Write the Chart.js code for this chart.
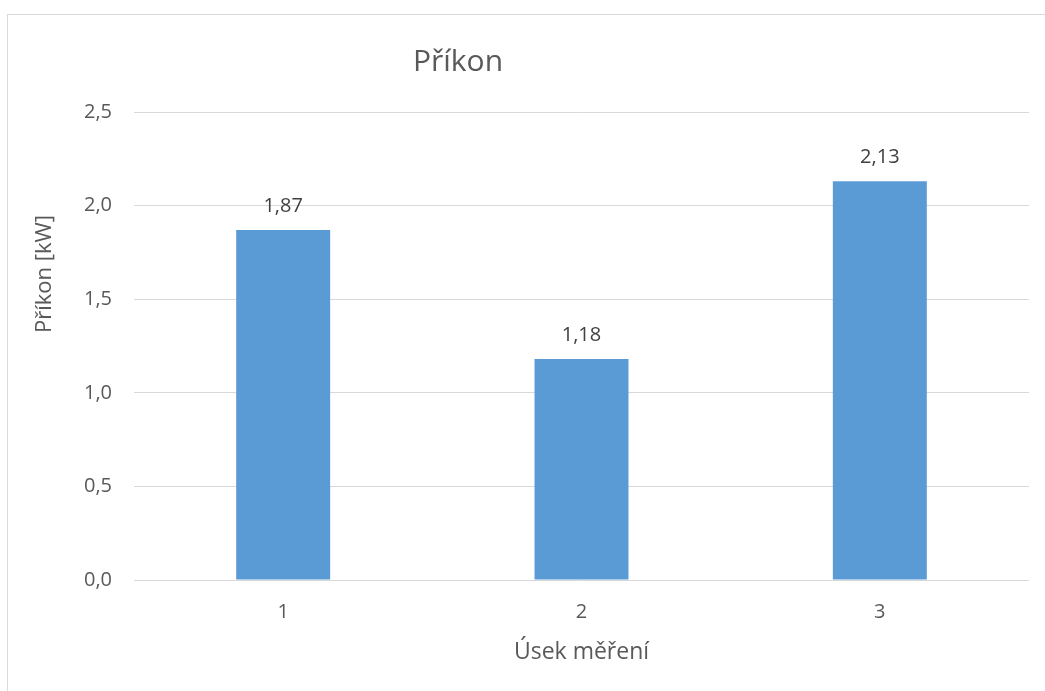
<!DOCTYPE html>
<html>
<head>
<meta charset="utf-8">
<title>Příkon</title>
<script src="https://cdn.jsdelivr.net/npm/chart.js@4"></script>
<style>
  html, body { margin: 0; padding: 0; background: #fff; }
  #wrap { position: absolute; left: 0; top: 0; width: 1045px; height: 691px; }
</style>
</head>
<body>
<div id="wrap"><canvas id="prikonChart"></canvas></div>
<script>
// Data
const categories = ['1', '2', '3'];
const prikon = [1.87, 1.18, 2.13];
const yMin = 0;
const yMax = 2.5;
const yStep = 0.5;

const chartTitle = 'Příkon';
const yTitle = 'Příkon [kW]';
const xTitle = 'Úsek měření';

const FONT = "'Open Sans', 'Noto Sans', sans-serif";
const fmt = v => v.toFixed(1).replace('.', ',');

// border, title, y axis title and value labels
const decorations = {
  id: 'decorations',
  beforeDraw(chart) {
    const ctx = chart.ctx;
    ctx.save();
    ctx.strokeStyle = '#d9d9d9';
    ctx.lineWidth = 1;
    ctx.strokeRect(7.5, 14.5, 1100, 1000);
    ctx.restore();
  },
  afterDraw(chart) {
    const ctx = chart.ctx;
    ctx.save();
    ctx.fillStyle = '#595959';
    ctx.textAlign = 'center';
    ctx.textBaseline = 'middle';
    ctx.font = '30px ' + FONT;
    ctx.fillText(chartTitle, 458, 62);

    ctx.translate(45, 274);
    ctx.rotate(-Math.PI / 2);
    ctx.font = '22px ' + FONT;
    ctx.fillText(yTitle, 0, 0);
    ctx.restore();

    ctx.save();
    ctx.fillStyle = '#404040';
    ctx.textAlign = 'center';
    ctx.textBaseline = 'middle';
    ctx.font = '20px ' + FONT;
    chart.getDatasetMeta(0).data.forEach((bar, i) => {
      ctx.fillText(prikon[i].toFixed(2).replace('.', ','), bar.x, bar.y - 24);
    });
    ctx.restore();
  }
};

new Chart(document.getElementById('prikonChart'), {
  type: 'bar',
  data: {
    labels: categories,
    datasets: [{
      label: chartTitle,
      data: prikon,
      backgroundColor: '#5b9bd5',
      borderWidth: 0,
      categoryPercentage: 1,
      barPercentage: 0.315
    }]
  },
  options: {
    responsive: true,
    maintainAspectRatio: false,
    animation: false,
    layout: { padding: { left: 0, top: 112, right: 16, bottom: 0 } },
    plugins: {
      legend: { display: false },
      title: { display: false },
      tooltip: { enabled: false }
    },
    scales: {
      x: {
        grid: { display: false, drawTicks: false },
        border: { display: false },
        ticks: { color: '#595959', font: { family: FONT, size: 20 }, padding: 20 },
        title: {
          display: true,
          text: xTitle,
          color: '#595959',
          font: { family: FONT, size: 23 },
          padding: { top: 0, bottom: 25 }
        },
        afterFit(scale) { scale.height = 111; }
      },
      y: {
        min: yMin,
        max: yMax,
        grid: { color: '#d9d9d9', lineWidth: 1, drawTicks: false },
        border: { display: false },
        ticks: {
          stepSize: yStep,
          color: '#595959',
          font: { family: FONT, size: 20 },
          padding: 22,
          callback: v => fmt(v)
        },
        afterFit(scale) { scale.width = 134; }
      }
    }
  },
  plugins: [decorations]
});
</script>
</body>
</html>
